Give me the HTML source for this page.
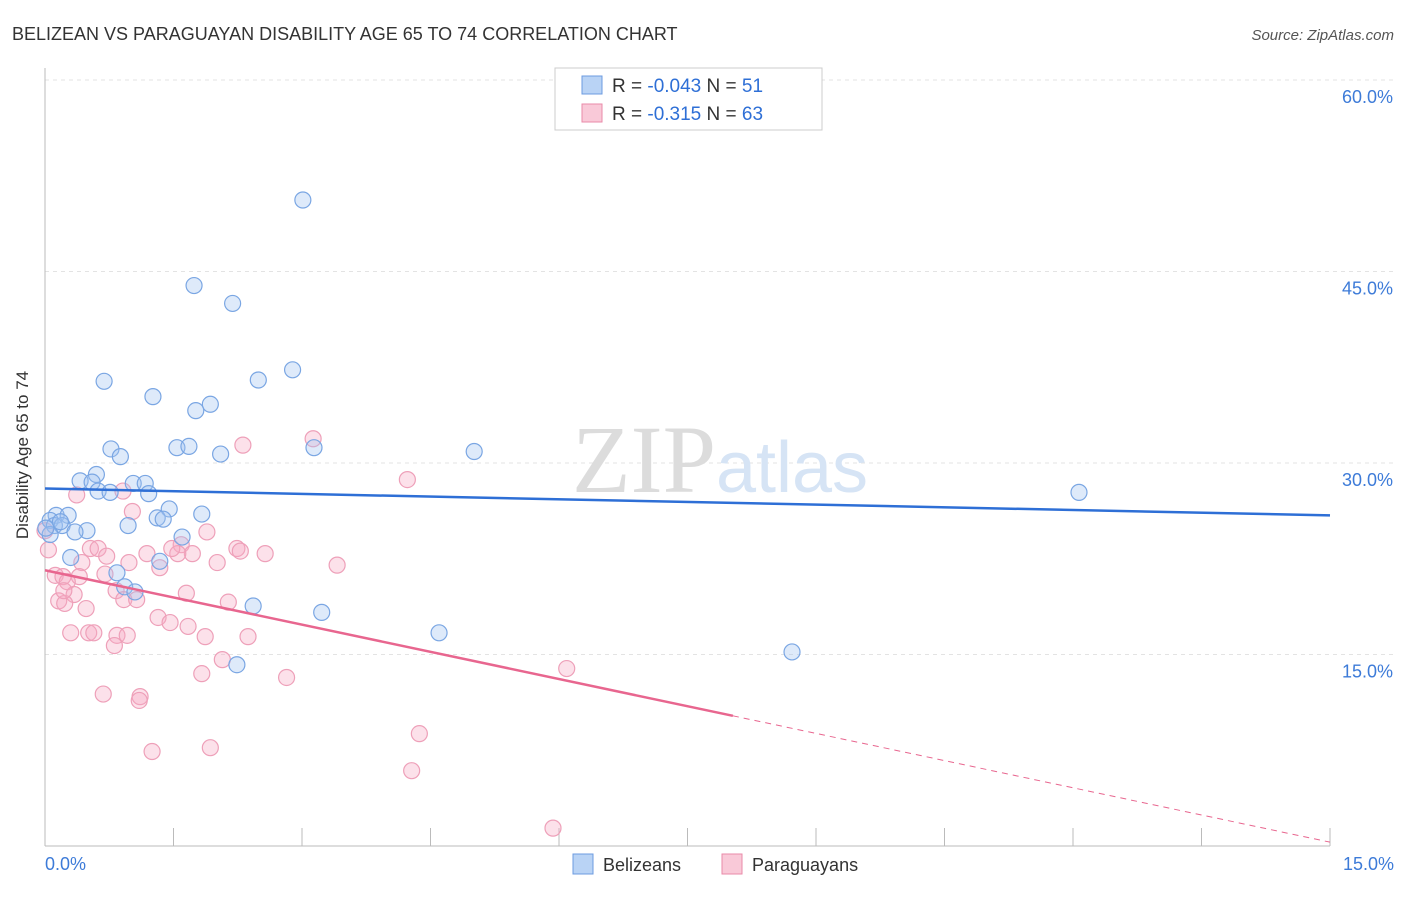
<!DOCTYPE html>
<html><head><meta charset="utf-8"><style>
body{margin:0;background:#fff;font-family:"Liberation Sans",sans-serif}
svg text{font-family:"Liberation Sans",sans-serif}
</style></head><body>
<svg id="chart" width="1406" height="892" xmlns="http://www.w3.org/2000/svg">
<text x="12" y="40" font-size="18" fill="#333">BELIZEAN VS PARAGUAYAN DISABILITY AGE 65 TO 74 CORRELATION CHART</text>
<text x="1394" y="40" font-size="15" fill="#555" text-anchor="end" font-style="italic">Source: ZipAtlas.com</text>
<text x="28" y="455" font-size="17" fill="#333" text-anchor="middle" transform="rotate(-90 28 455)">Disability Age 65 to 74</text>
<g id="grid"></g><g id="axes"></g>
<text x="720" y="492" font-size="96" fill="#e4e4e4" text-anchor="middle" font-family="Liberation Serif"><tspan fill="#dcdcdc" font-family="Liberation Serif">ZIP</tspan><tspan fill="#d6e4f5" font-size="72" font-family="Liberation Sans">atlas</tspan></text>
<g id="pts"></g><g id="trends"></g>
<g>
<rect x="555" y="68" width="267" height="62" fill="#fff" stroke="#ccc"/>
<rect x="582" y="76" width="20" height="18" fill="#b9d3f5" stroke="#6c9be0"/>
<text x="612" y="92" font-size="19" fill="#333">R = <tspan fill="#2e6fd6">-0.043</tspan>   N =  <tspan fill="#2e6fd6">51</tspan></text>
<rect x="582" y="104" width="20" height="18" fill="#f9c9d8" stroke="#e98aa8"/>
<text x="612" y="120" font-size="19" fill="#333">R =  <tspan fill="#2e6fd6">-0.315</tspan>   N = <tspan fill="#2e6fd6">63</tspan></text>
</g>
<g>
<rect x="573" y="854" width="20" height="20" fill="#b9d3f5" stroke="#6c9be0"/>
<text x="603" y="871" font-size="18" fill="#333">Belizeans</text>
<rect x="722" y="854" width="20" height="20" fill="#f9c9d8" stroke="#e98aa8"/>
<text x="752" y="871" font-size="18" fill="#333">Paraguayans</text>
</g>
</svg>
<script>
const xTicks=[0,1.5,3,4.5,6,7.5,9,10.5,12,13.5,15];
const yTicks=[15,30,45,60];
const yTickLabels=["15.0%","30.0%","45.0%","60.0%"];
const blueX=[3.01,1.74,2.19,0.69,2.49,2.89,1.26,1.93,1.76,5.01,3.14,0.77,1.54,1.68,0.88,2.05,0.60,0.41,0.55,1.03,1.17,0.62,0.76,1.21,1.45,1.83,1.31,1.38,0.97,0.13,0.27,0.06,0.11,0.20,0.49,0.35,1.60,0.06,0.30,1.34,0.84,0.93,1.05,2.43,3.23,4.60,2.24,8.72,12.07,0.01,0.18];
const blueY=[50.6,43.9,42.5,36.4,36.5,37.3,35.2,34.6,34.1,30.9,31.2,31.1,31.2,31.3,30.5,30.7,29.1,28.6,28.5,28.4,28.4,27.8,27.7,27.6,26.4,26.0,25.7,25.6,25.1,25.9,25.9,25.5,25.1,25.1,24.7,24.6,24.2,24.4,22.6,22.3,21.4,20.3,19.9,18.8,18.3,16.7,14.2,15.2,27.7,24.9,25.4];
const pinkX=[3.13,2.31,4.23,0.37,0.91,1.02,1.89,1.59,0.53,0.62,2.24,2.57,0.72,1.19,1.72,0.43,1.55,3.41,0.12,0.21,0.40,0.70,0.98,2.01,0.26,0.34,0.83,0.92,1.07,0.16,0.23,1.65,2.14,0.48,1.32,1.46,1.67,0.30,0.51,0.57,0.84,0.96,1.87,2.37,0.81,2.07,1.83,2.82,6.09,0.68,1.11,1.10,4.37,1.25,1.93,4.28,5.93,0.04,0.0,1.48,2.28,0.22,1.34];
const pinkY=[31.9,31.4,28.7,27.5,27.8,26.2,24.6,23.6,23.3,23.3,23.3,22.9,22.7,22.9,22.9,22.2,22.9,22.0,21.2,21.1,21.1,21.3,22.2,22.2,20.7,19.7,20.0,19.3,19.3,19.2,19.0,19.8,19.1,18.6,17.9,17.5,17.2,16.7,16.7,16.7,16.5,16.5,16.4,16.4,15.7,14.6,13.5,13.2,13.9,11.9,11.7,11.4,8.8,7.4,7.7,5.9,1.4,23.2,24.7,23.3,23.1,20.0,21.8];
const blueTrend=[28.0,25.9];
const pinkTrend=[21.6,0.3];
const pinkSolidEnd=8.03;
const X=v=>45+v*(1330-45)/15;
const Y=v=>846-v*(846-80)/60;
const NS="http://www.w3.org/2000/svg";
function mk(p,t,a){const e=document.createElementNS(NS,t);for(const k in a)e.setAttribute(k,a[k]);p.appendChild(e);return e;}
const grid=document.getElementById('grid'),axes=document.getElementById('axes');
yTicks.forEach((t,i)=>{
 const l=mk(grid,'line',{x1:45,x2:1394,y1:Y(t),y2:Y(t),stroke:'#e3e3e3','stroke-dasharray':'4,4'});
 
 
 const tx=mk(axes,'text',{x:1393,y:Y(t)+23,'font-size':18,fill:'#3d7bd8','text-anchor':'end'});tx.textContent=yTickLabels[i];
 
 
});
const ax=mk(axes,'line',{x1:45,x2:1330,y1:846,y2:846,stroke:'#bbb'});


const ay=mk(axes,'line',{x1:45,x2:45,y1:68,y2:846,stroke:'#bbb'});


xTicks.forEach(t=>{const l=mk(axes,'line',{x1:X(t),x2:X(t),y1:828,y2:846,stroke:'#bbb'});
 
 });
const t0=mk(axes,'text',{x:45,y:870,'font-size':18,fill:'#3d7bd8'});t0.textContent="0.0%";


const t1=mk(axes,'text',{x:1394,y:870,'font-size':18,fill:'#3d7bd8','text-anchor':'end'});t1.textContent="15.0%";


const pts=document.getElementById('pts');
pinkX.forEach((x,i)=>{const c=mk(pts,'circle',{cx:X(x),cy:Y(pinkY[i]),r:8,fill:'rgba(246,170,195,0.35)',stroke:'#eea0b9','stroke-width':1.2});
 
 });
blueX.forEach((x,i)=>{const c=mk(pts,'circle',{cx:X(x),cy:Y(blueY[i]),r:8,fill:'rgba(160,196,240,0.35)',stroke:'#7aa6e3','stroke-width':1.2});
 
 });
const tr=document.getElementById('trends');
const bl=mk(tr,'line',{x1:X(0),y1:Y(blueTrend[0]),x2:X(15),y2:Y(blueTrend[1]),stroke:'#2e6fd6','stroke-width':2.5});


const pAt=v=>pinkTrend[0]+(pinkTrend[1]-pinkTrend[0])*v/15;
const pl=mk(tr,'line',{x1:X(0),y1:Y(pinkTrend[0]),x2:X(pinkSolidEnd),y2:Y(pAt(pinkSolidEnd)),stroke:'#e8668f','stroke-width':2.5});


const pd=mk(tr,'line',{x1:X(pinkSolidEnd),y1:Y(pAt(pinkSolidEnd)),x2:X(15),y2:Y(pinkTrend[1]),stroke:'#e8668f','stroke-width':1,'stroke-dasharray':'6,5'});


</script>
</body></html>
